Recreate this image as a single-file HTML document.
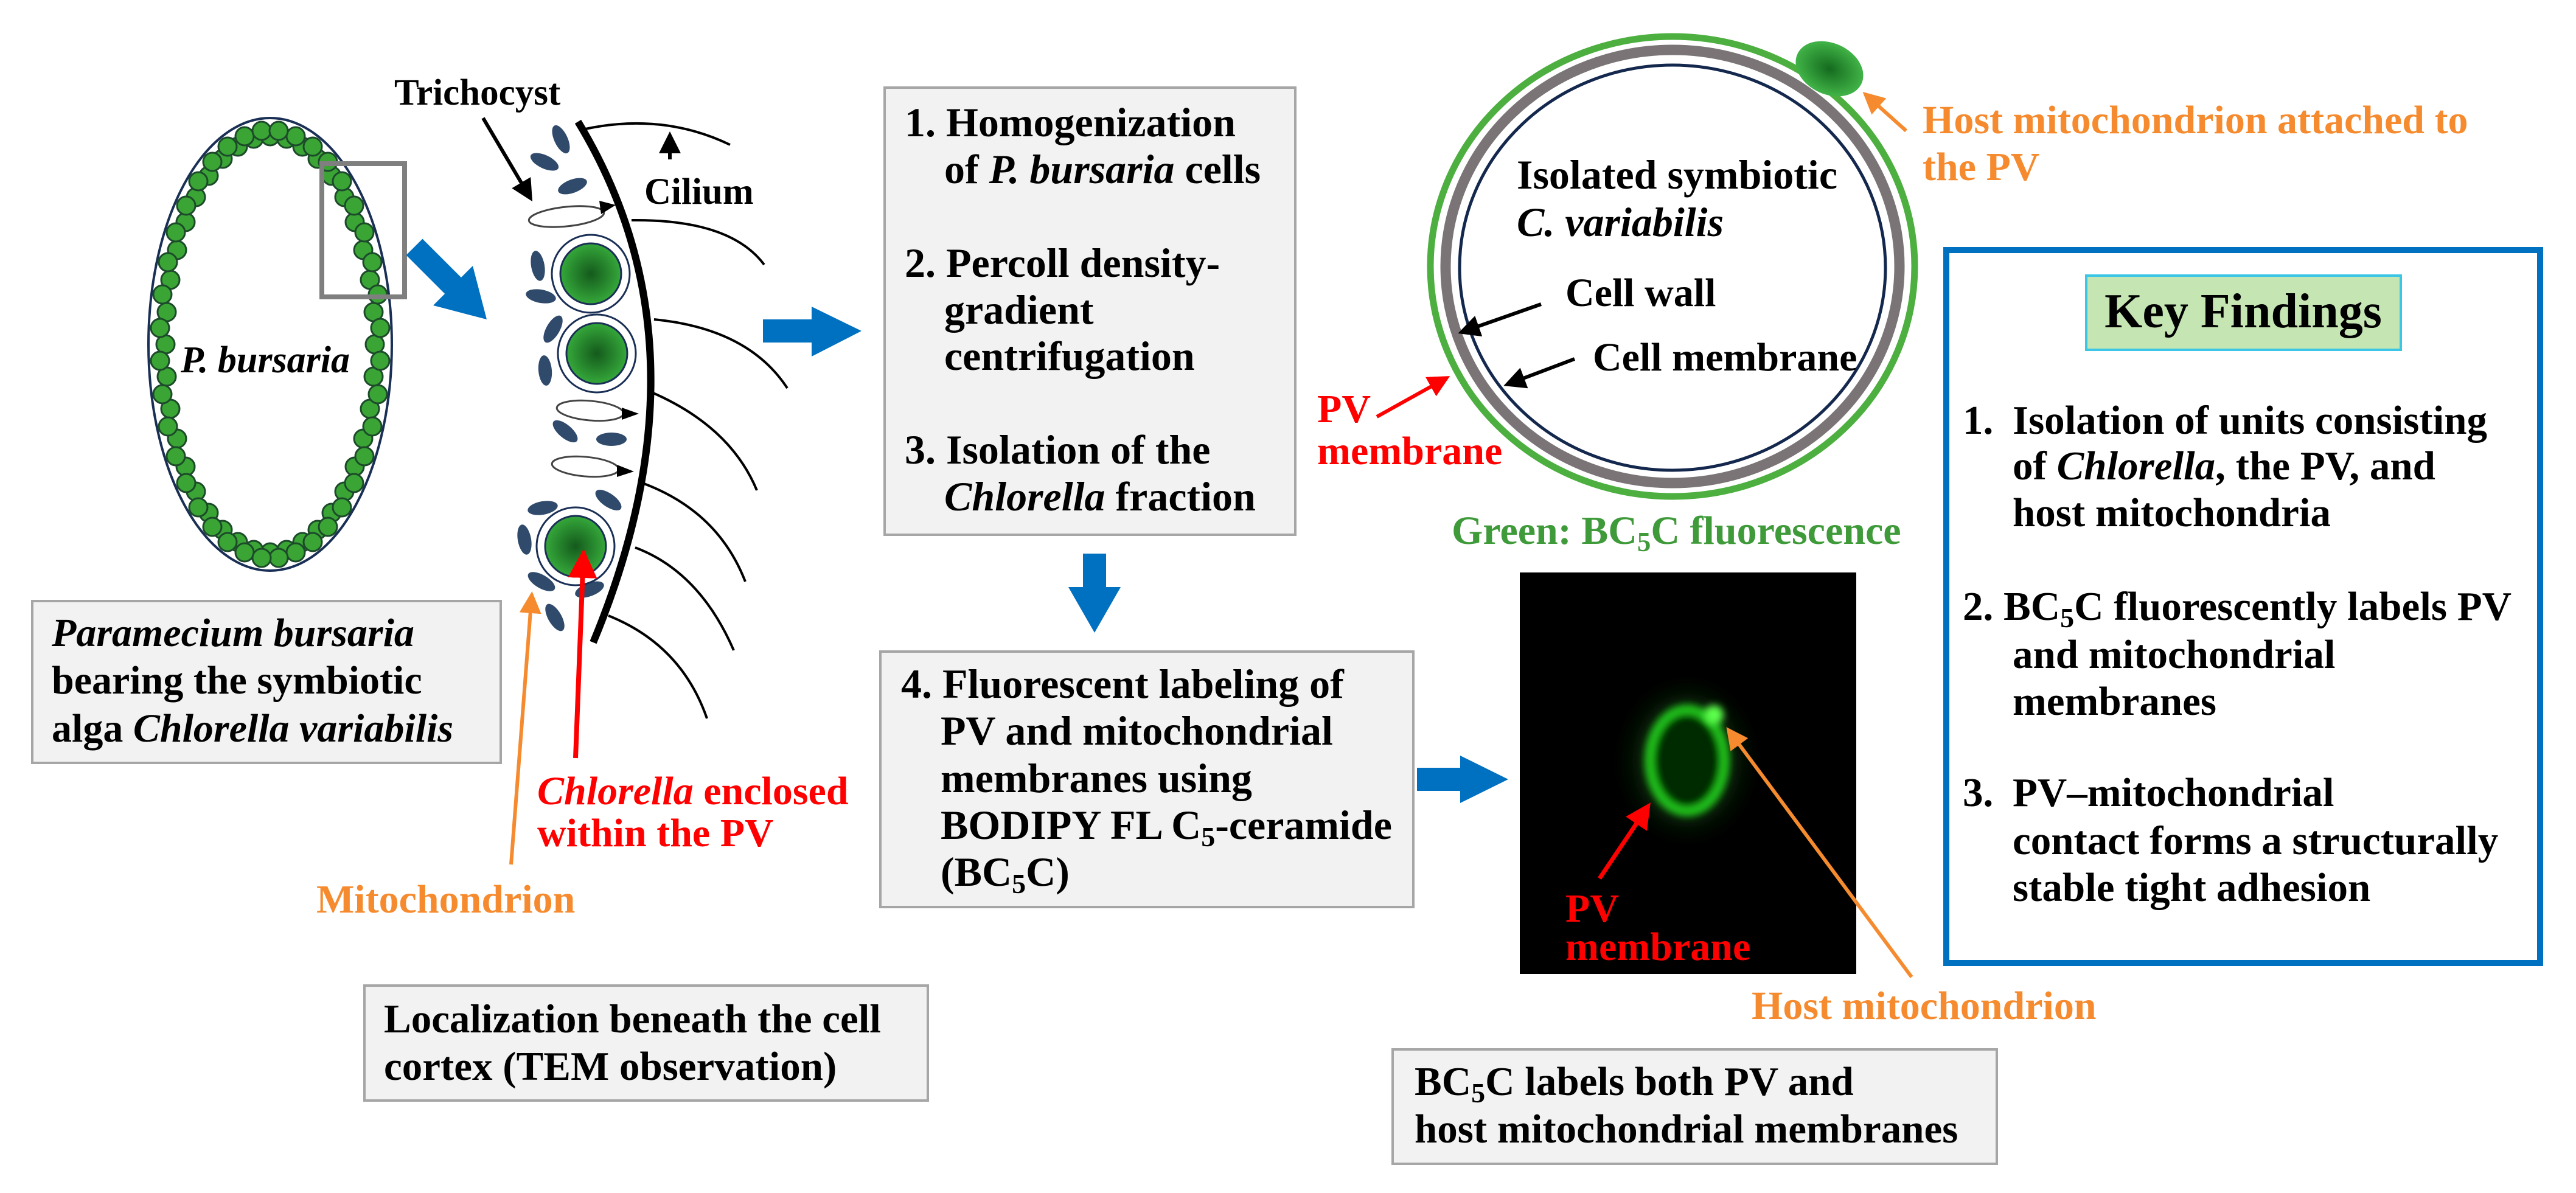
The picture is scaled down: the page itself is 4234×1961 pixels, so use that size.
<!DOCTYPE html>
<html><head><meta charset="utf-8"><style>
html,body{margin:0;padding:0;background:#fff;}
svg{display:block;}
svg text{font-family:"Liberation Serif",serif;font-weight:bold;}
</style></head><body>
<svg width="4234" height="1961" viewBox="0 0 4234 1961" xmlns="http://www.w3.org/2000/svg" font-family="Liberation Serif, serif" font-weight="bold">
<defs>
<radialGradient id="chl" cx="50%" cy="50%" r="50%"><stop offset="0" stop-color="#145a1c"/><stop offset="1" stop-color="#35a83a"/></radialGradient>
<radialGradient id="mt" cx="50%" cy="50%" r="50%"><stop offset="0" stop-color="#146a1e"/><stop offset="1" stop-color="#3fb045"/></radialGradient>
<filter id="bl" x="-50%" y="-50%" width="200%" height="200%"><feGaussianBlur stdDeviation="6"/></filter>
<filter id="bl2" x="-50%" y="-50%" width="200%" height="200%"><feGaussianBlur stdDeviation="18"/></filter>
<marker id="ak" markerWidth="6" markerHeight="6" refX="5" refY="3" orient="auto" markerUnits="strokeWidth"><path d="M0,0 L6,3 L0,6 z" fill="#000"/></marker>
<marker id="ar" markerWidth="6" markerHeight="6" refX="5" refY="3" orient="auto" markerUnits="strokeWidth"><path d="M0,0 L6,3 L0,6 z" fill="#ff0000"/></marker>
<marker id="ao" markerWidth="6" markerHeight="6" refX="5" refY="3" orient="auto" markerUnits="strokeWidth"><path d="M0,0 L6,3 L0,6 z" fill="#f58b2e"/></marker>
</defs>

<ellipse cx="444" cy="566" rx="200" ry="372" fill="#fff" stroke="#1a2f55" stroke-width="4"/>
<g fill="#3aa535" stroke="#1c4a2a" stroke-width="3">
<circle cx="616" cy="566" r="15"/><circle cx="614" cy="619" r="15"/><circle cx="608" cy="672" r="15"/><circle cx="597" cy="721" r="15"/><circle cx="583" cy="767" r="15"/><circle cx="566" cy="808" r="15"/><circle cx="545" cy="843" r="15"/><circle cx="522" cy="871" r="15"/><circle cx="497" cy="891" r="15"/><circle cx="471" cy="904" r="15"/><circle cx="444" cy="908" r="15"/>
<circle cx="417" cy="904" r="15"/><circle cx="391" cy="891" r="15"/><circle cx="366" cy="871" r="15"/><circle cx="343" cy="843" r="15"/><circle cx="322" cy="808" r="15"/><circle cx="305" cy="767" r="15"/><circle cx="291" cy="721" r="15"/><circle cx="280" cy="672" r="15"/><circle cx="274" cy="619" r="15"/><circle cx="272" cy="566" r="15"/>
<circle cx="274" cy="513" r="15"/><circle cx="280" cy="460" r="15"/><circle cx="291" cy="411" r="15"/><circle cx="305" cy="365" r="15"/><circle cx="322" cy="324" r="15"/><circle cx="343" cy="289" r="15"/><circle cx="366" cy="261" r="15"/><circle cx="391" cy="241" r="15"/><circle cx="417" cy="228" r="15"/><circle cx="444" cy="224" r="15"/>
<circle cx="471" cy="228" r="15"/><circle cx="497" cy="241" r="15"/><circle cx="522" cy="261" r="15"/><circle cx="545" cy="289" r="15"/><circle cx="566" cy="324" r="15"/><circle cx="583" cy="365" r="15"/><circle cx="597" cy="411" r="15"/><circle cx="608" cy="460" r="15"/><circle cx="614" cy="513" r="15"/>
<circle cx="625" cy="593" r="15"/><circle cx="621" cy="648" r="15"/><circle cx="612" cy="701" r="15"/><circle cx="599" cy="750" r="15"/><circle cx="582" cy="794" r="15"/><circle cx="562" cy="834" r="15"/><circle cx="539" cy="866" r="15"/><circle cx="514" cy="891" r="15"/><circle cx="486" cy="908" r="15"/><circle cx="458" cy="917" r="15"/>
<circle cx="263" cy="593" r="15"/><circle cx="267" cy="648" r="15"/><circle cx="276" cy="701" r="15"/><circle cx="289" cy="750" r="15"/><circle cx="306" cy="794" r="15"/><circle cx="326" cy="834" r="15"/><circle cx="349" cy="866" r="15"/><circle cx="374" cy="891" r="15"/><circle cx="402" cy="908" r="15"/><circle cx="430" cy="917" r="15"/>
<circle cx="263" cy="539" r="15"/><circle cx="267" cy="484" r="15"/><circle cx="276" cy="431" r="15"/><circle cx="289" cy="382" r="15"/><circle cx="306" cy="338" r="15"/><circle cx="326" cy="298" r="15"/><circle cx="349" cy="266" r="15"/><circle cx="374" cy="241" r="15"/><circle cx="402" cy="224" r="15"/><circle cx="430" cy="215" r="15"/>
<circle cx="625" cy="539" r="15"/><circle cx="621" cy="484" r="15"/><circle cx="612" cy="431" r="15"/><circle cx="599" cy="382" r="15"/><circle cx="582" cy="338" r="15"/><circle cx="562" cy="298" r="15"/><circle cx="539" cy="266" r="15"/><circle cx="514" cy="241" r="15"/><circle cx="486" cy="224" r="15"/><circle cx="458" cy="215" r="15"/>
</g>
<rect x="529" y="269" width="136" height="219" fill="none" stroke="#7f7f7f" stroke-width="8"/>
<text x="297" y="612" font-size="62" font-style="italic" font-family="Liberation Serif, serif">P. bursaria</text>

<line x1="681" y1="406" x2="755" y2="480" stroke="#0070c0" stroke-width="38"/>
<polygon points="800,525 712,502 777,437" fill="#0070c0"/>

<g fill="none" stroke="#000" stroke-width="4">
<path d="M962,212 Q1090,185 1200,238"/>
<path d="M1038,362 Q1200,360 1256,435"/>
<path d="M1075,525 Q1230,540 1294,638"/>
<path d="M1069,644 Q1200,700 1244,806"/>
<path d="M1056,794 Q1180,840 1225,956"/>
<path d="M1044,900 Q1150,940 1206,1069"/>
<path d="M1000,1012 Q1120,1060 1162,1181"/>
</g>
<path d="M950,200 Q1176,572 975,1056" fill="none" stroke="#000" stroke-width="12"/>

<g fill="#2f4a6b">
<ellipse cx="922" cy="229" rx="25" ry="11" transform="rotate(65 922 229)"/>
<ellipse cx="895" cy="266" rx="25" ry="11" transform="rotate(25 895 266)"/>
<ellipse cx="941" cy="306" rx="25" ry="11" transform="rotate(-20 941 306)"/>
<ellipse cx="884" cy="437" rx="25" ry="11" transform="rotate(80 884 437)"/>
<ellipse cx="889" cy="487" rx="25" ry="11" transform="rotate(10 889 487)"/>
<ellipse cx="909" cy="541" rx="25" ry="11" transform="rotate(-60 909 541)"/>
<ellipse cx="896" cy="609" rx="25" ry="11" transform="rotate(85 896 609)"/>
<ellipse cx="929" cy="709" rx="25" ry="11" transform="rotate(40 929 709)"/>
<ellipse cx="1005" cy="722" rx="25" ry="11"/>
<ellipse cx="1000" cy="822" rx="25" ry="11" transform="rotate(35 1000 822)"/>
<ellipse cx="892" cy="835" rx="25" ry="11" transform="rotate(-10 892 835)"/>
<ellipse cx="862" cy="887" rx="25" ry="11" transform="rotate(80 862 887)"/>
<ellipse cx="890" cy="956" rx="25" ry="11" transform="rotate(30 890 956)"/>
<ellipse cx="912" cy="1015" rx="25" ry="11" transform="rotate(60 912 1015)"/>
<ellipse cx="969" cy="969" rx="25" ry="11" transform="rotate(-20 969 969)"/>
</g>
<g stroke="#444" stroke-width="3" fill="#fff">
<ellipse cx="931" cy="356" rx="62" ry="16" transform="rotate(-6 931 356)"/>
<ellipse cx="970" cy="675" rx="55" ry="16" transform="rotate(5 970 675)"/>
<ellipse cx="962" cy="767" rx="55" ry="16" transform="rotate(5 962 767)"/>
</g>
<g fill="#000">
<polygon points="1012,337 985,330 988,352"/>
<polygon points="1050,680 1022,670 1022,690"/>
<polygon points="1042,775 1014,764 1014,784"/>
</g>
<g stroke="#1a2f55" stroke-width="3">
<circle cx="971" cy="450" r="64" fill="#fff"/><circle cx="971" cy="450" r="50" fill="url(#chl)"/>
<circle cx="981" cy="581" r="64" fill="#fff"/><circle cx="981" cy="581" r="50" fill="url(#chl)"/>
<circle cx="946" cy="898" r="64" fill="#fff"/><circle cx="946" cy="898" r="50" fill="url(#chl)"/>
</g>
<g font-family="Liberation Serif, serif">
<text x="648" y="172" font-size="61">Trichocyst</text>
<text x="1059" y="335" font-size="61">Cilium</text>
<text x="883" y="1322" font-size="66" fill="#ff0000"><tspan font-style="italic">Chlorella</tspan> enclosed</text>
<text x="883" y="1391" font-size="66" fill="#ff0000">within the PV</text>
<text x="520" y="1500" font-size="66" fill="#f58b2e">Mitochondrion</text>
</g>
<line x1="794" y1="194" x2="872" y2="326" stroke="#000" stroke-width="6" marker-end="url(#ak)"/>
<line x1="1101" y1="262" x2="1101" y2="222" stroke="#000" stroke-width="6" marker-end="url(#ak)"/>
<line x1="946" y1="1246" x2="959" y2="910" stroke="#ff0000" stroke-width="8" marker-end="url(#ar)"/>
<line x1="840" y1="1421" x2="874" y2="978" stroke="#f58b2e" stroke-width="6" marker-end="url(#ao)"/>

<rect x="53" y="988" width="770" height="266" fill="#f2f2f2" stroke="#a6a6a6" stroke-width="4"/>
<rect x="599" y="1620" width="926" height="189" fill="#f2f2f2" stroke="#a6a6a6" stroke-width="4"/>
<g font-family="Liberation Serif, serif">
<text x="85" y="1062" font-size="66"><tspan font-style="italic">Paramecium bursaria</tspan></text>
<text x="85" y="1140" font-size="66">bearing the symbiotic</text>
<text x="85" y="1219" font-size="66">alga <tspan font-style="italic">Chlorella variabilis</tspan></text>
<text x="631" y="1697" font-size="67">Localization beneath the cell</text>
<text x="631" y="1775" font-size="67">cortex (TEM observation)</text>
</g>

<rect x="1254" y="525" width="90" height="38" fill="#0070c0"/>
<polygon points="1334,504 1416,544 1334,586" fill="#0070c0"/>

<rect x="1454" y="144" width="675" height="735" fill="#f2f2f2" stroke="#a6a6a6" stroke-width="4"/>
<g font-size="68" font-family="Liberation Serif, serif">
<text x="1487" y="224">1. Homogenization</text>
<text x="1552" y="301">of <tspan font-style="italic">P. bursaria</tspan> cells</text>
<text x="1487" y="455">2. Percoll density-</text>
<text x="1552" y="532">gradient</text>
<text x="1552" y="608">centrifugation</text>
<text x="1487" y="762">3. Isolation of the</text>
<text x="1552" y="839"><tspan font-style="italic">Chlorella</tspan> fraction</text>
</g>
<rect x="1780" y="910" width="38" height="58" fill="#0070c0"/>
<polygon points="1756,965 1842,965 1799,1040" fill="#0070c0"/>

<rect x="1447" y="1071" width="876" height="420" fill="#f2f2f2" stroke="#a6a6a6" stroke-width="4"/>
<g font-size="68" font-family="Liberation Serif, serif">
<text x="1481" y="1147">4. Fluorescent labeling of</text>
<text x="1546" y="1224">PV and mitochondrial</text>
<text x="1546" y="1302">membranes using</text>
<text x="1546" y="1379">BODIPY FL C<tspan dy="12" font-size="46">5</tspan><tspan dy="-12">-ceramide</tspan></text>
<text x="1546" y="1456">(BC<tspan dy="12" font-size="46">5</tspan><tspan dy="-12">C)</tspan></text>
</g>
<rect x="2329" y="1262" width="75" height="38" fill="#0070c0"/>
<polygon points="2400,1242 2479,1281 2400,1320" fill="#0070c0"/>

<rect x="2498" y="941" width="553" height="660" fill="#000"/>
<ellipse cx="2773" cy="1250" rx="90" ry="110" fill="#0a3a0a" filter="url(#bl2)" opacity="0.6"/>
<ellipse cx="2773" cy="1250" rx="62" ry="84" fill="#062906" stroke="#22c41f" stroke-width="16" filter="url(#bl)"/>
<circle cx="2817" cy="1175" r="16" fill="#5cff4c" filter="url(#bl)"/>
<line x1="2629" y1="1444" x2="2709" y2="1325" stroke="#ff0000" stroke-width="7" marker-end="url(#ar)"/>
<line x1="3142" y1="1606" x2="2841" y2="1200" stroke="#f58b2e" stroke-width="6" marker-end="url(#ao)"/>
<rect x="2289" y="1725" width="993" height="188" fill="#f2f2f2" stroke="#a6a6a6" stroke-width="4"/>
<g font-family="Liberation Serif, serif">
<text x="2573" y="1515" font-size="66" fill="#ff0000">PV</text>
<text x="2573" y="1578" font-size="66" fill="#ff0000">membrane</text>
<text x="2879" y="1675" font-size="66" fill="#f58b2e">Host mitochondrion</text>
<text x="2325" y="1800" font-size="67">BC<tspan dy="12" font-size="46">5</tspan><tspan dy="-12">C labels both PV and</tspan></text>
<text x="2325" y="1878" font-size="67">host mitochondrial membranes</text>
</g>

<ellipse cx="2749" cy="438" rx="398" ry="378" fill="#fff" stroke="#4caf3f" stroke-width="11"/>
<ellipse cx="2749" cy="438" rx="373" ry="356" fill="none" stroke="#7a7476" stroke-width="17"/>
<ellipse cx="2749" cy="440" rx="350" ry="333" fill="none" stroke="#14284e" stroke-width="5"/>
<ellipse cx="3007" cy="113" rx="56" ry="40" transform="rotate(25 3007 113)" fill="url(#mt)" stroke="#3fb045" stroke-width="4"/>
<line x1="3133" y1="215" x2="3066" y2="155" stroke="#f58b2e" stroke-width="6" marker-end="url(#ao)"/>
<line x1="2533" y1="500" x2="2402" y2="546" stroke="#000" stroke-width="6" marker-end="url(#ak)"/>
<line x1="2588" y1="590" x2="2477" y2="632" stroke="#000" stroke-width="6" marker-end="url(#ak)"/>
<line x1="2263" y1="685" x2="2378" y2="621" stroke="#ff0000" stroke-width="6" marker-end="url(#ar)"/>
<g font-family="Liberation Serif, serif">
<text x="3160" y="219" font-size="66" fill="#f58b2e">Host mitochondrion attached to</text>
<text x="3160" y="296" font-size="66" fill="#f58b2e">the PV</text>
<text x="2493" y="310" font-size="68">Isolated symbiotic</text>
<text x="2493" y="388" font-size="68" font-style="italic">C. variabilis</text>
<text x="2573" y="503" font-size="66">Cell wall</text>
<text x="2618" y="609" font-size="66">Cell membrane</text>
<text x="2165" y="694" font-size="66" fill="#ff0000">PV</text>
<text x="2165" y="763" font-size="66" fill="#ff0000">membrane</text>
<text x="2386" y="894" font-size="66" fill="#3f9a3a">Green: BC<tspan dy="12" font-size="45">5</tspan><tspan dy="-12">C fluorescence</tspan></text>
</g>

<rect x="3199" y="411" width="976" height="1172" fill="#fff" stroke="#0070c0" stroke-width="10"/>
<rect x="3429" y="453" width="517" height="122" fill="#c5e5b3" stroke="#3cc6e6" stroke-width="4"/>
<text x="3687" y="538" font-size="80" text-anchor="middle" font-family="Liberation Serif, serif">Key Findings</text>
<g font-size="67" font-family="Liberation Serif, serif">
<text x="3226" y="713">1.</text>
<text x="3308" y="713">Isolation of units consisting</text>
<text x="3308" y="788">of <tspan font-style="italic">Chlorella</tspan>, the PV, and</text>
<text x="3308" y="865">host mitochondria</text>
<text x="3226" y="1019">2. BC<tspan dy="12" font-size="46">5</tspan><tspan dy="-12">C fluorescently labels PV</tspan></text>
<text x="3308" y="1098">and mitochondrial</text>
<text x="3308" y="1175">membranes</text>
<text x="3226" y="1325">3.</text>
<text x="3308" y="1325">PV–mitochondrial</text>
<text x="3308" y="1404">contact forms a structurally</text>
<text x="3308" y="1481">stable tight adhesion</text>
</g>
</svg>
</body></html>
